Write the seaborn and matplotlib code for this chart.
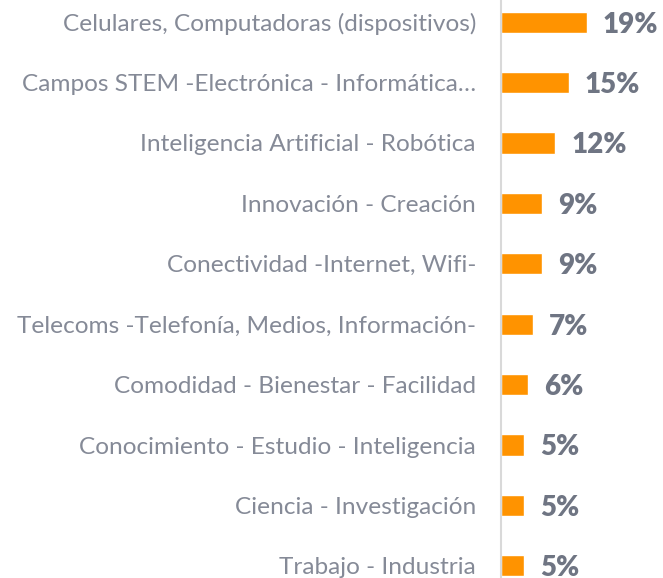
import matplotlib
matplotlib.use("Agg")
import matplotlib.pyplot as plt
import pandas as pd
import seaborn as sns

# ─── DATA ───────────────────────────────────────────────────────────────────────
categories = [
    "Celulares, Computadoras (dispositivos)",
    "Campos STEM -Electrónica - Informática…",
    "Inteligencia Artificial - Robótica",
    "Innovación - Creación",
    "Conectividad -Internet, Wifi-",
    "Telecoms -Telefonía, Medios, Información-",
    "Comodidad - Bienestar - Facilidad",
    "Conocimiento - Estudio - Inteligencia",
    "Ciencia - Investigación",
    "Trabajo - Industria",
]
values = [19, 15, 12, 9, 9, 7, 6, 5, 5, 5]
labels = ["19%", "15%", "12%", "9%", "9%", "7%", "6%", "5%", "5%", "5%"]

df = pd.DataFrame({"cat": categories, "val": values})

# ─── STYLE ──────────────────────────────────────────────────────────────────────
sns.set_style("white")
plt.rcParams["font.family"] = ["Lato", "DejaVu Sans"]

ORANGE = "#FF9300"
LABEL_GRAY = "#858A97"
PCT_GRAY = "#6F7583"

fig = plt.figure(figsize=(6.63, 5.78), dpi=100)
# axes reaches past the bottom edge, the last row is cut like in the original
ax = fig.add_axes([501 / 663, -18 / 578, 162 / 663, 604 / 578])

sns.barplot(data=df, x="val", y="cat", orient="h", color=ORANGE,
            width=0.35, saturation=1, ax=ax)

ax.set_xlim(0, 36)
ax.set_ylim(9.5, -0.5)
ax.set_xlabel("")
ax.set_ylabel("")
ax.set_xticks([])

for s in ["top", "right", "bottom"]:
    ax.spines[s].set_visible(False)
ax.spines["left"].set_color("#D9D9D9")
ax.spines["left"].set_linewidth(1.5)

ax.tick_params(axis="y", length=0, pad=18, labelsize=17.6, labelcolor=LABEL_GRAY)

for i, (v, t) in enumerate(zip(values, labels)):
    ax.text(v + 3.6, i + 0.04, t, va="center", ha="left", fontsize=20,
            fontweight="heavy", color=PCT_GRAY)

fig.savefig("out.png", dpi=100)
